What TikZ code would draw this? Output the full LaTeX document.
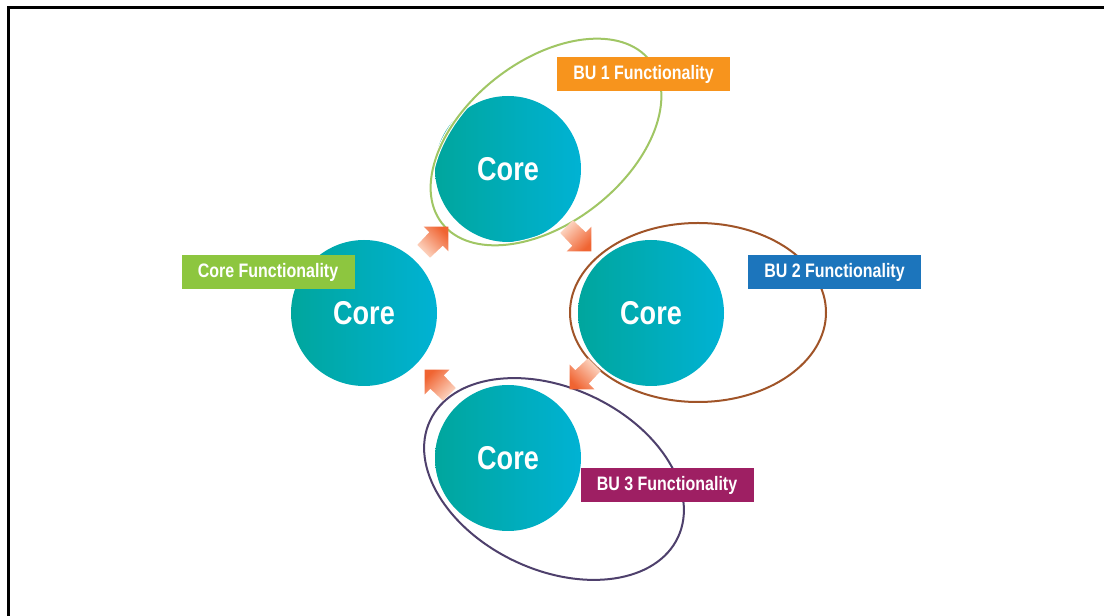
\documentclass[tikz,border=0pt]{standalone}
\usepackage{fontspec}
\newfontfamily\condfont{Liberation Sans}[FakeStretch=0.82]
\definecolor{tealL}{RGB}{0,166,157}
\definecolor{cyanR}{RGB}{0,178,212}
\definecolor{arrD}{RGB}{240,100,50}
\definecolor{arrL}{RGB}{253,218,200}
\definecolor{greenE}{RGB}{160,198,100}
\definecolor{brownE}{RGB}{160,84,40}
\definecolor{purpleE}{RGB}{78,64,108}
\definecolor{labOrange}{RGB}{247,148,29}
\definecolor{labGreen}{RGB}{141,198,63}
\definecolor{labBlue}{RGB}{28,117,188}
\definecolor{labMagenta}{RGB}{158,31,99}
% #1 name, #2 centre, #3 direction (degrees)
\newcommand\flowarrow[3]{%
  \begin{scope}[shift={#2}]
    \coordinate (#1) at (0,0);
    \shade[top color=arrD, bottom color=arrL, shading angle={#3-90}]
      ({#3+152.8}:19.68) -- ({#3+90}:9.5) -- ({#3+90}:17.5) -- ({#3}:17.5)
      -- ({#3-90}:17.5) -- ({#3-90}:9.5) -- ({#3-152.8}:19.68) -- cycle;
  \end{scope}}
\begin{document}
\begin{tikzpicture}[x=1pt,y=1pt,
  core/.style={circle, minimum size=146pt, inner sep=0pt, left color=tealL, right color=cyanR,
    font=\condfont\bfseries\fontsize{33}{33}\selectfont, text=white},
  lab/.style={rectangle, minimum width=173pt, minimum height=34pt, inner sep=0pt, text=white,
    font=\condfont\bfseries\fontsize{19.5}{20}\selectfont},
  ring/.style={line width=2pt, preaction={draw=white, line width=4pt}}
]
\useasboundingbox (0,0) rectangle (1104,616);
% frame
\draw[line width=3pt] (8,0) -- (8,608) -- (1104,608);
% circles
\node[core] (ctop) at (508,447) {Core};
\node[core] (cleft) at (364,303) {Core};
\node[core] (cright) at (651,303) {Core};
\node[core] (cbot) at (508,158) {Core};
% ellipses
\draw[ring, draw=greenE, rotate around={38:(546,474)}] (546,474) ellipse [x radius=132, y radius=81];
\draw[ring, draw=brownE] (698,303.5) ellipse [x radius=128, y radius=89.5];
\draw[ring, draw=purpleE, rotate around={-25.2:(554,137)}] (554,137) ellipse [x radius=137, y radius=91];
% arrows
\flowarrow{a1}{(436,377)}{45}
\flowarrow{a2}{(579,377)}{-45}
\flowarrow{a3}{(582,239)}{-135}
\flowarrow{a4}{(437,234)}{135}
% labels
\node[lab, fill=labOrange] (l1) at (643.5,542) {BU 1 Functionality};
\node[lab, fill=labGreen] (l0) at (268,344) {Core Functionality};
\node[lab, fill=labBlue] (l2) at (834.5,344) {BU 2 Functionality};
\node[lab, fill=labMagenta] (l3) at (667,131) {BU 3 Functionality};
\end{tikzpicture}
\end{document}
